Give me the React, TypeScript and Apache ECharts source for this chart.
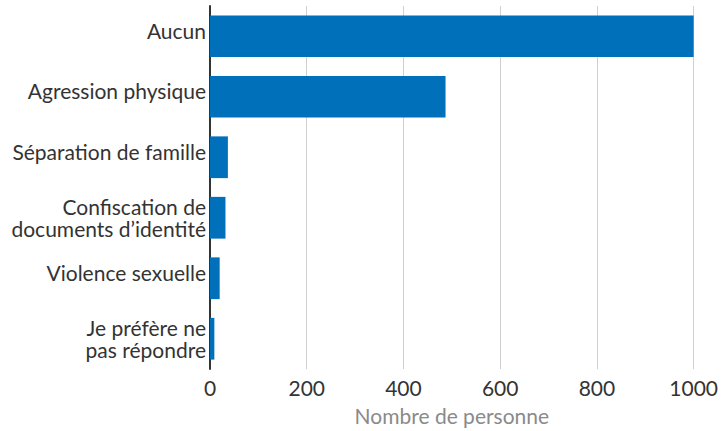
import React, { useEffect, useRef } from "react";
import * as echarts from "echarts";

const categories = [
  "Aucun",
  "Agression physique",
  "Séparation de famille",
  "Confiscation de\ndocuments d’identité",
  "Violence sexuelle",
  "Je préfère ne\npas répondre",
];
const values = [1000, 487, 37, 32, 20, 9];
const xTicks = [0, 200, 400, 600, 800, 1000];

export default function App() {
  const ref = useRef<HTMLDivElement>(null);
  useEffect(() => {
    if (!ref.current) return;
    const chart = echarts.init(ref.current, undefined, { renderer: "svg" });
    chart.setOption({
      animation: false,
      grid: { left: 210, right: 27, top: 6, bottom: 58, containLabel: false },
      xAxis: {
        type: "value",
        min: xTicks[0],
        max: xTicks[xTicks.length - 1],
        interval: 200,
        name: "Nombre de personne",
        nameLocation: "middle",
        nameGap: 36,
        nameTextStyle: { color: "#8a8a8a", fontSize: 21, fontFamily: "Lato" },
        axisLine: { show: false },
        axisTick: { show: false },
        axisLabel: {
          color: "#333",
          fontSize: 21,
          fontFamily: "Lato",
          margin: 8,
          formatter: (v: number) => String(v),
        },
        splitLine: { show: true, lineStyle: { color: "#d0d0d0", width: 1 } },
      },
      yAxis: {
        type: "category",
        data: categories,
        inverse: true,
        axisLine: { show: true, lineStyle: { color: "#333", width: 2 } },
        axisTick: { show: false },
        axisLabel: {
          color: "#333",
          fontSize: 21,
          fontFamily: "Lato",
          margin: 4,
          lineHeight: 22,
          align: "right",
          formatter: (v: string) => (v.indexOf("\n") >= 0 ? v : v + "\n{s| }"),
          rich: { s: { fontSize: 2, lineHeight: 12 } },
        },
      },
      series: [
        {
          type: "bar",
          data: values,
          barCategoryGap: "31%",
          itemStyle: { color: "#0070ba" },
        },
      ],
    });
    return () => chart.dispose();
  }, []);
  return <div ref={ref} style={{ width: 721, height: 431, position: "absolute", left: 0, top: 0 }} />;
}
